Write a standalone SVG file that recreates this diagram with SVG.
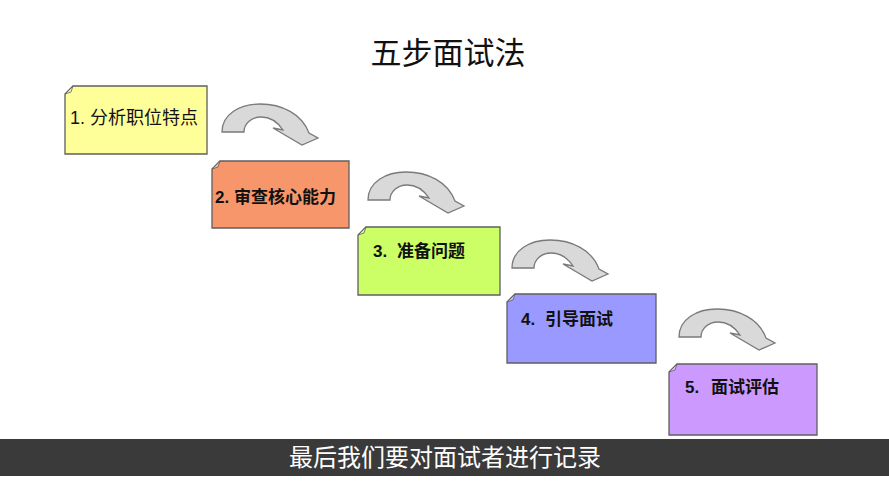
<svg xmlns="http://www.w3.org/2000/svg" width="889" height="500" viewBox="0 0 889 500">
<defs>
<style>
.box{stroke:#5f5f5f;stroke-width:1.3}
.fold{fill:#ffffff;fill-opacity:0.45;stroke:#5f5f5f;stroke-width:0.8}
.lbl{font-family:"Liberation Sans","Noto Sans CJK SC",sans-serif;font-size:17px;fill:#111}
.b{font-weight:bold}
.arr{fill:#d9d9d9;stroke:#7a7a7a;stroke-width:1.3;stroke-linejoin:miter}
</style>
<path id="curl" d="M0,28 C0,10 18,0 38,0 C60,0 80,10 87,29 L96,34 L80,41 L51,24 L61,26 C55,17 47,13 39,13 C29,13 22,20 22,28 Z"/>
</defs>
<rect width="889" height="500" fill="#ffffff"/>
<text x="448" y="64" text-anchor="middle" style="font-family:'Noto Sans CJK SC',sans-serif;font-size:31px;fill:#111">五步面试法</text>

<g id="connectors">
<use href="#curl" class="arr" transform="translate(222,104)"/>
<use href="#curl" class="arr" transform="translate(368,172)"/>
<use href="#curl" class="arr" transform="translate(512,240)"/>
<use href="#curl" class="arr" transform="translate(679,309)"/>
</g>

<g id="step1">
<path class="box" fill="#ffff99" d="M73,86 L207,86 L207,154 L65,154 L65,94 Z"/>
<path class="fold" d="M65,94 L73,86 L71,92 Z"/>
<text class="lbl" x="70" y="124" style="font-size:18px">1. 分析职位特点</text>
</g>
<g id="step2">
<path class="box" fill="#f7966b" d="M220,161 L349,161 L349,228 L212,228 L212,169 Z"/>
<path class="fold" d="M212,169 L220,161 L218,167 Z"/>
<text class="lbl b" x="215" y="203">2. 审查核心能力</text>
</g>
<g id="step3">
<path class="box" fill="#ccff66" d="M366,227 L500,227 L500,295 L358,295 L358,235 Z"/>
<path class="fold" d="M358,235 L366,227 L364,233 Z"/>
<text class="lbl b" x="373" y="257">3.<tspan x="397">准备问题</tspan></text>
</g>
<g id="step4">
<path class="box" fill="#9999ff" d="M515,294 L656,294 L656,363 L507,363 L507,302 Z"/>
<path class="fold" d="M507,302 L515,294 L513,300 Z"/>
<text class="lbl b" x="521" y="325">4.<tspan x="545">引导面试</tspan></text>
</g>
<g id="step5">
<path class="box" fill="#cc99ff" d="M677,364 L817,364 L817,435 L669,435 L669,372 Z"/>
<path class="fold" d="M669,372 L677,364 L675,370 Z"/>
<text class="lbl b" x="685" y="393">5.<tspan x="711">面试评估</tspan></text>
</g>

<rect x="0" y="439" width="889" height="37" fill="#3a3a3a"/>
<text x="445" y="466" text-anchor="middle" style="font-family:'Noto Sans CJK SC',sans-serif;font-size:24px;fill:#ffffff">最后我们要对面试者进行记录</text>
</svg>
